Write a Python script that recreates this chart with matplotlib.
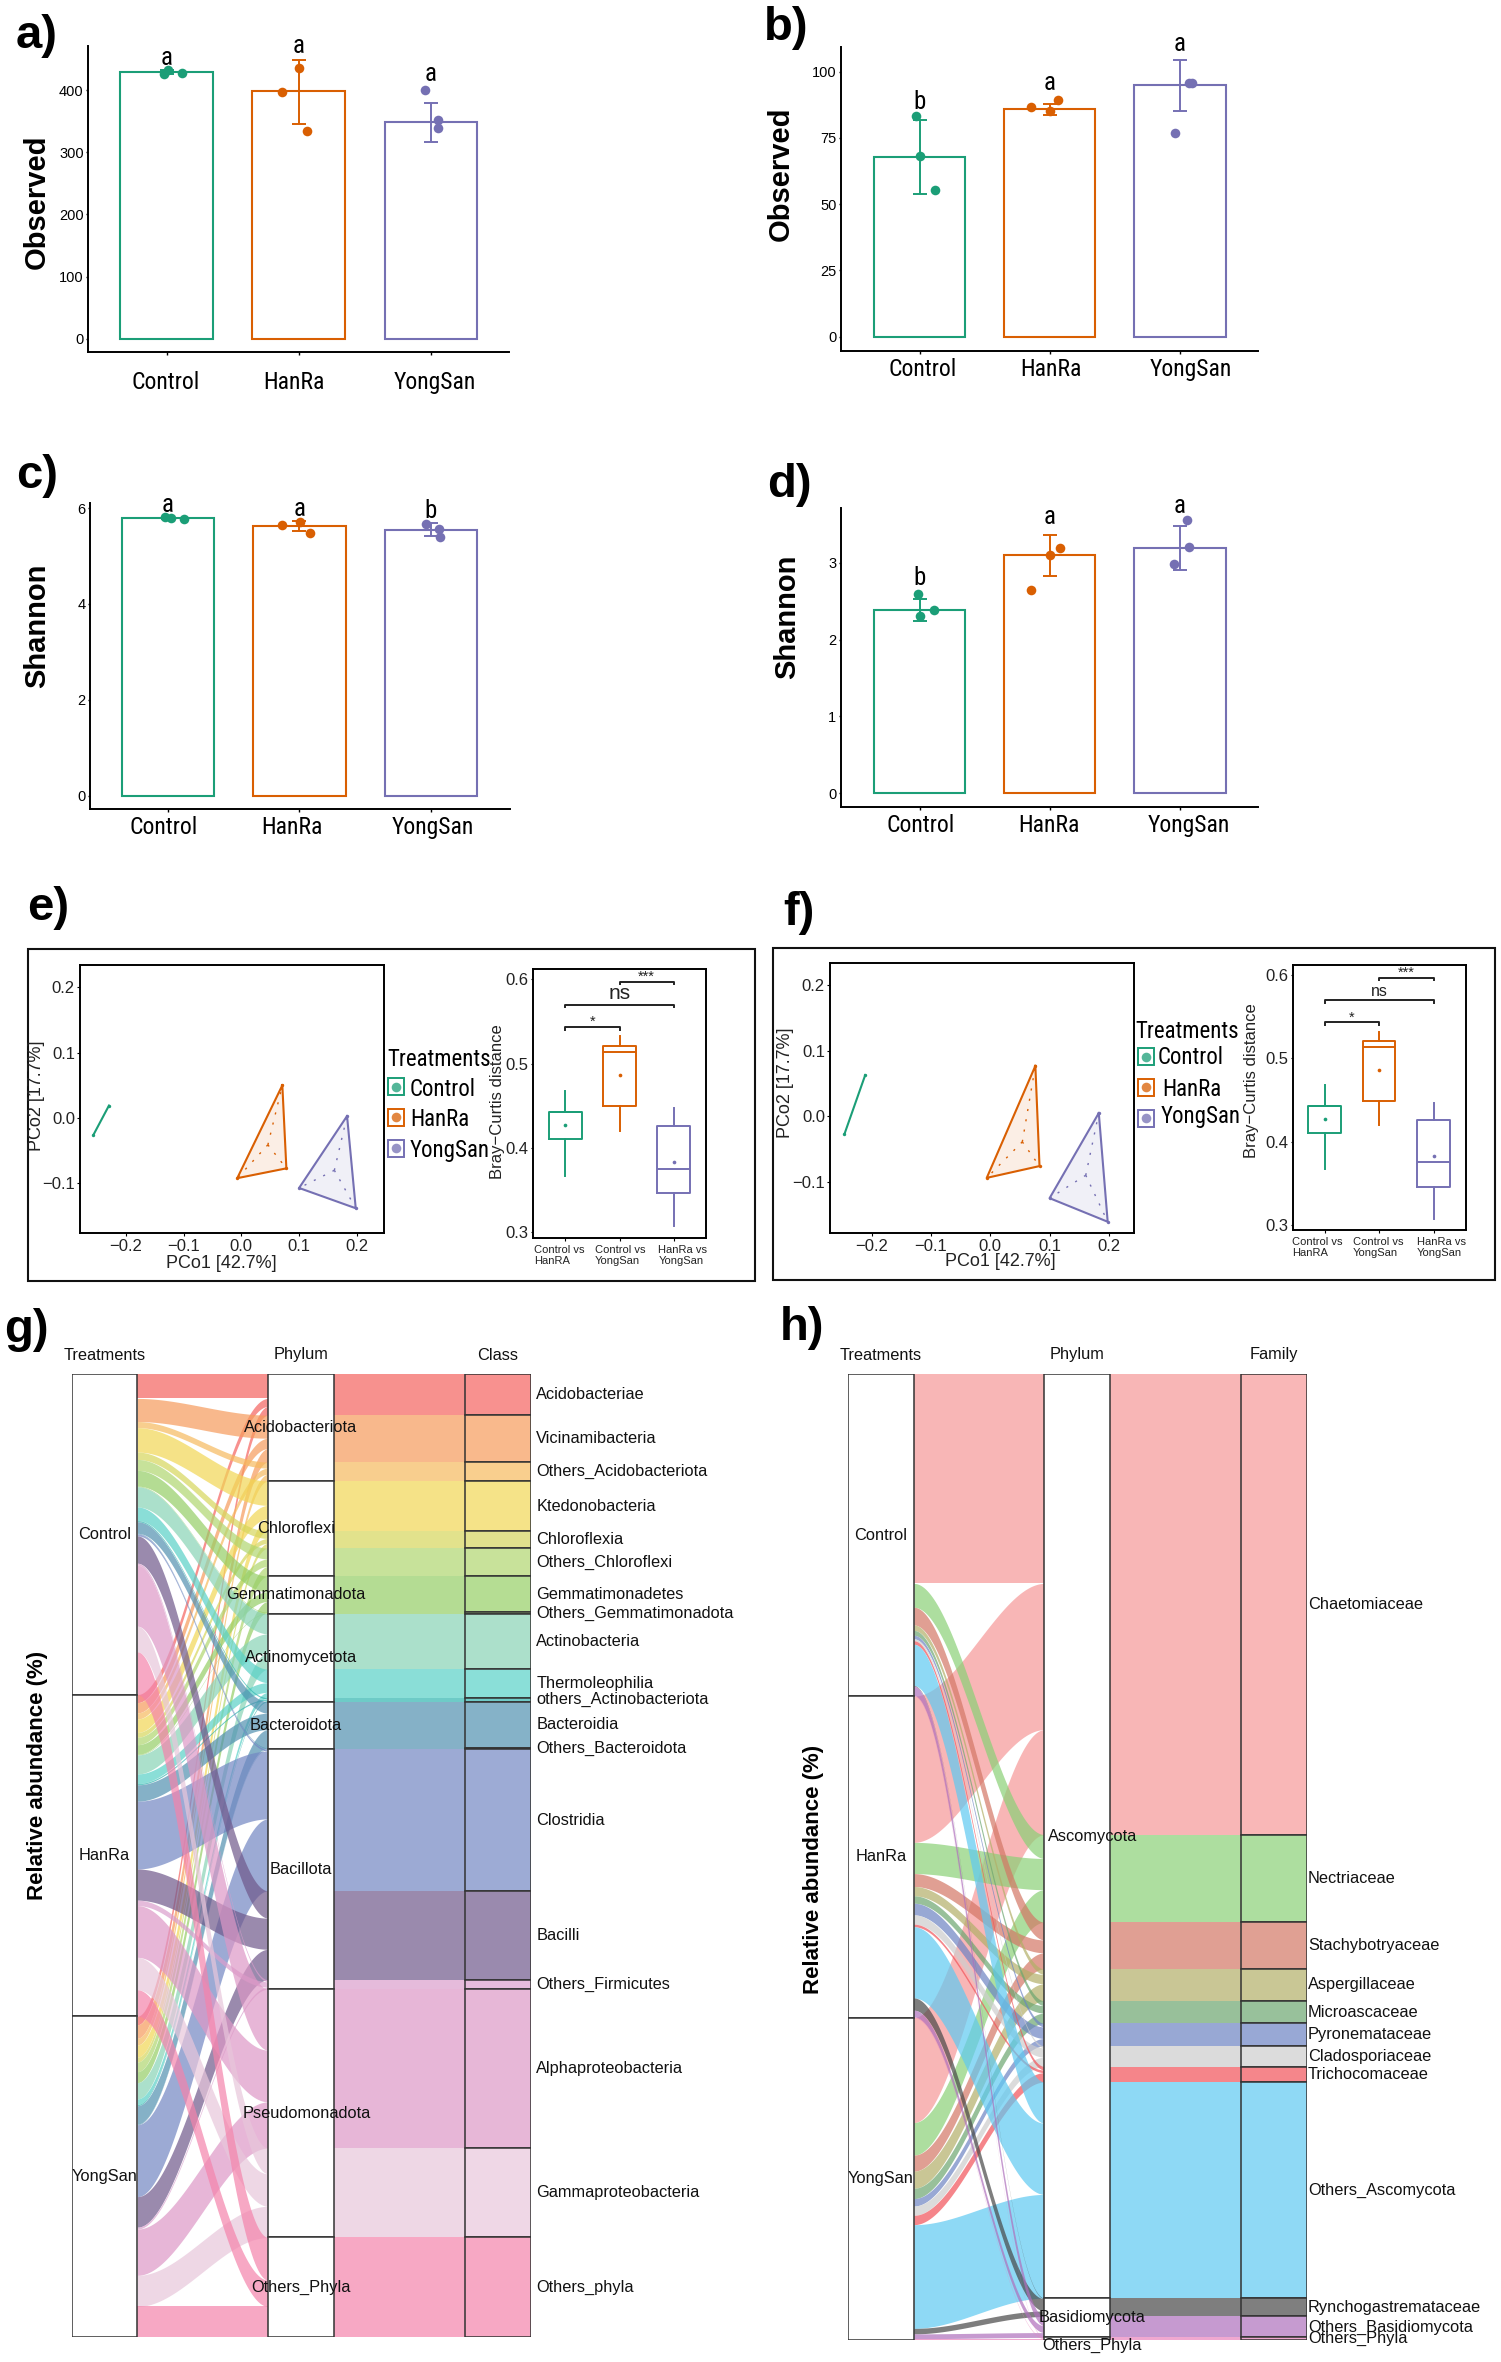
import numpy as np
import matplotlib
matplotlib.use("Agg")
import matplotlib.pyplot as plt
from matplotlib import font_manager as fm
from matplotlib.patches import Rectangle
from matplotlib.transforms import ScaledTranslation
from matplotlib.colors import to_rgb

W, H = 1501, 2362
names = {f.name for f in fm.fontManager.ttflist}
NARROW = next((n for n in ["Liberation Sans Narrow", "Roboto Condensed", "Open Sans Condensed"] if n in names), None)
NARROW_SCALE = 1.0
if NARROW is None:
    NARROW, NARROW_SCALE = "Liberation Sans", 0.82
plt.rcParams["font.family"] = ["Liberation Sans", "DejaVu Sans"]

groups = ["Control", "HanRa", "YongSan"]
colors = ["#1B9E77", "#D95F02", "#7570B3"]

# ---- alpha diversity panels
a_means = [429, 398, 349]
a_err = [(425, 433), (345, 449), (317, 379)]
a_points = [[426, 433, 428], [397, 436, 334], [400, 351, 339]]
a_jitter = [[-.02, .01, .115], [-.13, 0, .065], [-.043, .052, .058]]
a_letters = ["a", "a", "a"]
a_letter_y = [451, 471, 425]

b_means = [67.9, 85.9, 94.8]
b_err = [(53.8, 81.9), (83.8, 87.8), (85.3, 104.3)]
b_points = [[83.4, 68.3, 55.2], [86.7, 85, 89.3], [76.7, 95.8, 95.8]]
b_jitter = [[-.03, 0, .117], [-.143, 0, .066], [-.037, .066, .09]]
b_letters = ["b", "a", "a"]
b_letter_y = [88.7, 95.6, 110.3]

c_means = [5.80, 5.63, 5.55]
c_err = [(5.78, 5.82), (5.52, 5.74), (5.42, 5.68)]
c_points = [[5.81, 5.80, 5.765], [5.65, 5.71, 5.48], [5.66, 5.56, 5.40]]
c_jitter = [[-.025, .02, .12], [-.13, .007, .08], [-.04, .06, .065]]
c_letters = ["a", "a", "b"]
c_letter_y = [6.06, 5.98, 5.93]

d_means = [2.39, 3.10, 3.19]
d_err = [(2.245, 2.53), (2.83, 3.36), (2.91, 3.47)]
d_points = [[2.59, 2.30, 2.38], [2.65, 3.10, 3.19], [2.98, 3.20, 3.55]]
d_jitter = [[-.01, 0, .114], [-.147, 0, .08], [-.048, .066, .055]]
d_letters = ["b", "a", "a"]
d_letter_y = [2.80, 3.59, 3.74]

# ---- ordination hulls: vertices and centroid for e and f
e_hulls = [[(-.256, -.026), (-.229, .019)],
           [(.071, .050), (.078, -.077), (-.007, -.092)],
           [(.183, .003), (.198, -.138), (.100, -.107)]]
e_centres = [None, (.046, -.041), (.161, -.080)]
f_hulls = [[(-.246, -.027), (-.211, .063)],
           [(.076, .077), (.083, -.076), (-.006, -.094)],
           [(.183, .005), (.198, -.161), (.100, -.125)]]
f_centres = [None, (.054, -.039), (.161, -.090)]

# ---- Bray-Curtis boxes
box_labels = ["Control vs\nHanRA", "Control vs\nYongSan", "HanRa vs\nYongSan"]
box_whislo = [.367, .4204, .3075]
box_q1 = [.4105, .4492, .346]
box_med = [.4425, .514, .3754]
box_q3 = [.443, .521, .4255]
box_whishi = [.4675, .532, .447]
box_mean = [.4267, .486, .383]
bracket_y = [.5432, .5696, .5969]
bracket_text = ["*", "ns", "***"]
bracket_span = [(1, 2), (1, 3), (2, 3)]

# ---- alluvial g (relative abundance, %, one per treatment)
g_class = ["Acidobacteriae", "Vicinamibacteria", "Others_Acidobacteriota", "Ktedonobacteria", "Chloroflexia",
           "Others_Chloroflexi", "Gemmatimonadetes", "Others_Gemmatimonadota", "Actinobacteria", "Thermoleophilia",
           "others_Actinobacteriota", "Bacteroidia", "Others_Bacteroidota", "Clostridia", "Bacilli",
           "Others_Firmicutes", "Alphaproteobacteria", "Gammaproteobacteria", "Others_phyla"]
g_phylum = ["Acidobacteriota"] * 3 + ["Chloroflexi"] * 3 + ["Gemmatimonadota"] * 2 + ["Actinomycetota"] * 3 + \
           ["Bacteroidota"] * 2 + ["Bacillota"] * 3 + ["Pseudomonadota"] * 2 + ["Others_Phyla"]
g_control = [7.6, 7.2, 1.9, 7.6, 2.3, 3.4, 4.9, .2, 6.3, 4.2, .4, 3.6, .2, .6, 8.5, .6, 19.0, 8.0, 13.3]
g_hanra = [2.5, 3.2, 1.9, 4.2, 1.5, 2.3, 3.0, .2, 5.9, 3.0, .4, 5.1, 0, 21.1, 9.7, 1.7, 16.1, 10.1, 8.2]
g_yongsan = [2.7, 4.2, 2.1, 3.8, 1.5, 3.0, 3.4, 0, 5.1, 1.7, .4, 5.7, .2, 22.4, 9.5, .6, 14.4, 9.7, 9.5]
g_colors = ["#F8918F", "#F9B98C", "#F9CF8E", "#F5E388", "#E2E28D", "#C8E29A", "#B5DD93", "#B5DD93", "#ACE0CB",
            "#8ADFD8", "#6FCBC8", "#85B2C8", "#85B2C8", "#9DABD5", "#9A8AAE", "#E5BBDC", "#E7B7D7", "#EFD7E6", "#F7A8C4"]
g_offsets = {"Chloroflexi": -5, "Gemmatimonadota": -5, "Bacteroidota": -5, "Pseudomonadota": 6}

# ---- alluvial h
h_family = ["Chaetomiaceae", "Nectriaceae", "Stachybotryaceae", "Aspergillaceae", "Microascaceae", "Pyronemataceae",
            "Cladosporiaceae", "Trichocomaceae", "Others_Ascomycota", "Rynchogastremataceae", "Others_Basidiomycota",
            "Others_Phyla"]
h_phylum = ["Ascomycota"] * 9 + ["Basidiomycota"] * 2 + ["Others_Phyla"]
h_control = [65.0, 7.4, 5.5, 1.7, 1.5, 1.1, .6, 1.1, 12.8, .2, 2.9, .2]
h_hanra = [45.4, 9.7, 4.0, 2.9, 2.3, 3.6, 2.9, .8, 22.1, 3.8, 2.1, .2]
h_yongsan = [32.6, 10.1, 5.0, 5.3, 3.2, 2.3, 2.9, 2.9, 32.2, 1.7, 1.5, .4]
h_colors = ["#F9B7B7", "#ADDE9F", "#E0A093", "#C9C795", "#98C19B", "#98A8D5", "#DCDCDC", "#F5868B", "#8FD9F5",
            "#7F7F7F", "#C69BD0", "#F0A8D0"]
h_offsets = {"Ascomycota": 15, "Basidiomycota": 15, "Others_Phyla": 15}

fig = plt.figure(figsize=(W / 100, H / 100), dpi=100, facecolor="white")


def X(x):
    """Measured x-positions come from two columns of crops, each slightly stretched."""
    return .993 * x if x < 750 else 750 + .993 * (x - 750)


def axraw(l, t, r, b, **kw):
    return fig.add_axes([l / W, 1 - b / H, (r - l) / W, (b - t) / H], **kw)


def axpx(l, t, r, b, **kw):
    return axraw(X(l), t, X(r), b, **kw)


ov = axraw(0, 0, W, H, zorder=20)
ov.set_xlim(0, W)
ov.set_ylim(H, 0)
ov.axis("off")
ov.patch.set_alpha(0)


def shift(label, dx, dy=0):
    label.set_transform(label.get_transform() + ScaledTranslation(dx / 100, -dy / 100, fig.dpi_scale_trans))


def bar_panel(box, xlim, ylim, yticks, means, errs, pts, jit, letters, letter_y, pad, offs, ylab, ylab_xy):
    ax = axpx(*box)
    xs = np.arange(1, 4)
    ax.bar(xs, means, width=.7, facecolor="none", edgecolor=colors, linewidth=1.5)
    for i, x in enumerate(xs):
        ax.errorbar(x, means[i], yerr=[[means[i] - errs[i][0]], [errs[i][1] - means[i]]], color=colors[i],
                    capsize=5, capthick=1.4, elinewidth=1.4)
        ax.scatter(x + np.array(jit[i]), pts[i], s=48, color=colors[i], linewidths=0, zorder=5, clip_on=False)
        ax.text(x, letter_y[i], letters[i], ha="center", va="center", fontsize=18 * NARROW_SCALE, family=NARROW,
                clip_on=False)
    ax.set_xlim(*xlim)
    ax.set_ylim(*ylim)
    ax.set_yticks(yticks)
    ax.set_xticks(xs)
    ax.set_xticklabels(groups, family=NARROW, fontsize=17 * NARROW_SCALE)
    ax.tick_params(axis="y", length=1.5, width=1, pad=1.5, labelsize=10.5)
    ax.tick_params(axis="x", length=2, width=1, pad=pad)
    for lb, o in zip(ax.get_xticklabels(), offs):
        shift(lb, o)
    for s in ["top", "right"]:
        ax.spines[s].set_visible(False)
    for s in ["left", "bottom"]:
        ax.spines[s].set_linewidth(1.4)
    ov.text(X(ylab_xy[0]), ylab_xy[1], ylab, rotation=90, ha="center", va="center", fontsize=21, fontweight="bold")
    return ax


def ylims(y0px, upp, t, b):
    return ((y0px - b) / upp, (y0px - t) / upp)


def xlims(c1, ppu, l, r):
    return (1 + (l - c1) / ppu, 1 + (r - c1) / ppu)


bar_panel((88.5, 46, 513, 352), xlims(167.8, 133, 88.5, 513), ylims(338.7, .6217, 46, 352), [0, 100, 200, 300, 400],
          a_means, a_err, a_points, a_jitter, a_letters, a_letter_y, 12, [-1, -5, 4], "Observed", (37.5, 201.7))
bar_panel((841.8, 46.7, 1262, 350.7), xlims(920.7, 131.2, 841.8, 1262), ylims(336.7, 2.65, 46.7, 350.7),
          [0, 25, 50, 75, 100], b_means, b_err, b_points, b_jitter, b_letters, b_letter_y, 3, [3, 1, 11],
          "Observed", (781, 174))
bar_panel((90.4, 503.3, 513.5, 809.3), xlims(169.2, 132.4, 90.4, 513.5), ylims(795.7, 47.93, 503.3, 809.3),
          [0, 2, 4, 6], c_means, c_err, c_points, c_jitter, c_letters, c_letter_y, 3, [-4, -8, 2], "Shannon",
          (37.5, 626))
bar_panel((841.3, 507.7, 1262, 807.3), xlims(920.7, 131.2, 841.3, 1262), ylims(793.3, 76.9, 507.7, 807.3),
          [0, 1, 2, 3], d_means, d_err, d_points, d_jitter, d_letters, d_letter_y, 3, [1, -1, 9], "Shannon",
          (787.5, 616.7))


def ordination(frame, box, x0, xppu, y0, yppu, hulls, centres, xlab_xy, ylab_xy, legend):
    ov.add_patch(Rectangle((X(frame[0]), frame[1]), X(frame[2]) - X(frame[0]), frame[3] - frame[1], fill=False,
                           edgecolor="#111111", linewidth=1.5))
    ax = axpx(*box)
    xppu = xppu * .993
    x0 = X(x0)
    ax.set_xlim((X(box[0]) - x0) / xppu, (X(box[2]) - x0) / xppu)
    ax.set_ylim((y0 - box[3]) / yppu, (y0 - box[1]) / yppu)
    for hull, cen, c in zip(hulls, centres, colors):
        xs, ys = zip(*hull)
        if len(hull) > 2:
            ax.fill(xs, ys, facecolor=c, alpha=.1, linewidth=0)
            ax.plot(list(xs) + [xs[0]], list(ys) + [ys[0]], color=c, lw=1.5)
            for x, y in hull:
                ax.plot([cen[0], x], [cen[1], y], color=c, lw=1, ls=(0, (1.5, 6)))
        else:
            ax.plot(xs, ys, color=c, lw=1.5)
        ax.scatter(xs, ys, s=6, color=c, linewidths=0, zorder=4)
    ax.set_xticks([-.2, -.1, 0, .1, .2])
    ax.set_yticks([-.1, 0, .1, .2])
    ax.xaxis.set_major_formatter(lambda v, p: f"{v:.1f}".replace("-", "\u2212"))
    ax.yaxis.set_major_formatter(lambda v, p: f"{v:.1f}".replace("-", "\u2212"))
    ax.tick_params(length=2, width=.8, labelsize=12, pad=2, labelcolor="#222222")
    for s in ax.spines.values():
        s.set_linewidth(1.4)
    ov.text(X(xlab_xy[0]), xlab_xy[1], "PCo1 [42.7%]", ha="center", va="center", fontsize=13, color="#222222")
    ov.text(X(ylab_xy[0]), ylab_xy[1], "PCo2 [17.7%]", ha="center", va="center", fontsize=13, rotation=90,
            color="#222222")
    tx, ty = legend["title"]
    ov.text(X(tx), ty, "Treatments", ha="left", va="center", family=NARROW, fontsize=16.5 * NARROW_SCALE)
    for g, c, (kx, ky), (lx, ly) in zip(groups, colors, legend["keys"], legend["labels"]):
        ov.add_patch(Rectangle((X(kx) - 8, ky - 8.5), 16, 17, facecolor="white", edgecolor=c, linewidth=1.4))
        ov.scatter([X(kx)], [ky], s=48, color=c, alpha=.75, linewidths=0, zorder=3)
        ov.text(X(lx), ly, g, ha="left", va="center", family=NARROW, fontsize=16.5 * NARROW_SCALE)


def boxes(box, c1, ppu, y3, yppu, lab_x, ylab_xy, ns_size):
    ax = axpx(*box)
    ax.set_xlim(1 + (box[0] - c1) / ppu, 1 + (box[2] - c1) / ppu)
    ax.set_ylim(.3 + (y3 - box[3]) / yppu, .3 + (y3 - box[1]) / yppu)
    for i, c in enumerate(colors):
        st = dict(med=box_med[i], q1=box_q1[i], q3=box_q3[i], whislo=box_whislo[i], whishi=box_whishi[i], fliers=[])
        lp = dict(color=c, linewidth=1.4)
        ax.bxp([st], positions=[i + 1], widths=.6, showcaps=False, showfliers=False, boxprops=lp, medianprops=lp,
               whiskerprops=lp, manage_ticks=False)
        ax.scatter([i + 1], [box_mean[i]], s=7, color=c, linewidths=0, zorder=4)
    for (x1, x2), y, t in zip(bracket_span, bracket_y, bracket_text):
        ax.plot([x1, x1, x2, x2], [y - .003, y, y, y - .003], color="#222222", lw=1.4)
        size = ns_size if t == "ns" else 10.5
        ax.text((x1 + x2) / 2, y + (.002 if t == "ns" else .0075), t, ha="center",
                va="bottom" if t == "ns" else "center_baseline", fontsize=size, color="#222222")
    ax.set_xticks([1, 2, 3])
    ax.set_xticklabels(box_labels, fontsize=8, ha="left", color="#222222", linespacing=1.1)
    ax.set_yticks([.3, .4, .5, .6])
    ax.tick_params(axis="y", length=1.5, width=.8, labelsize=12, pad=1.5, labelcolor="#222222")
    ax.tick_params(axis="x", length=2, width=.8, pad=3)
    for i, (lb, x) in enumerate(zip(ax.get_xticklabels(), lab_x)):
        shift(lb, X(x) - X(c1 + ppu * i))
    for s in ax.spines.values():
        s.set_linewidth(1.4)
    ov.text(X(ylab_xy[0]), ylab_xy[1], "Bray\u2212Curtis distance", rotation=90, ha="center", va="center",
            fontsize=12, color="#222222")


ordination((28, 949, 755, 1281), (81, 964.7, 387, 1233), 243, 582, 1118, 654, e_hulls, e_centres,
           (223, 1263), (36.6, 1096),
           dict(title=(390, 1060), keys=[(399, 1086.7), (399, 1117), (399, 1148)],
                labels=[(413, 1090), (413, 1119), (413, 1151)]))
boxes((536.6, 969.3, 710.7, 1238.3), 569.3, 54.6, 1232.3, 844, [538, 599, 663], (501, 1101.7), 15)
ordination((773, 948.3, 1500, 1280), (831, 963.3, 1137, 1233.3), 992, 597, 1116.3, 655, f_hulls, f_centres,
           (1002, 1261), (786, 1082.7),
           dict(title=(1138.5, 1031.7), keys=[(1148.6, 1056.7), (1148.6, 1087), (1148.6, 1118)],
                labels=[(1161, 1057.7), (1165, 1090), (1163.5, 1117)]))
boxes((1296.6, 965.3, 1471, 1230), 1328.8, 54.8, 1225, 833, [1296, 1357, 1421.6], (1255, 1080.7), 11.5)


def deepen(hexcol, a):
    return tuple(np.clip((np.array(to_rgb(hexcol)) - (1 - a)) / a, 0, 1))


def alluvial(box, classes, phyla, values, cols, titles, offs, label_gap, yoffs=None):
    yoffs = yoffs or {}
    ax = axraw(*box)
    ax.axis("off")
    wid = .335
    ax.set_xlim(-wid / 2, 2 + wid / 2)
    total = sum(sum(v) for v in values)
    ax.set_ylim(total, 0)
    a = .7
    n = len(classes)
    left = {}
    y = 0
    tre_spans = []
    for t, vals in enumerate(values):
        y0 = y
        for k in range(n):
            left[(t, k)] = (y, y + vals[k])
            y += vals[k]
        tre_spans.append((y0, y))
    right = {}
    cls_spans = []
    y = 0
    for k in range(n):
        y0 = y
        for t in range(len(values)):
            right[(t, k)] = (y, y + values[t][k])
            y += values[t][k]
        cls_spans.append((y0, y))
    phy_names = list(dict.fromkeys(phyla))
    phy_spans = [(min(cls_spans[i][0] for i in range(n) if phyla[i] == p),
                  max(cls_spans[i][1] for i in range(n) if phyla[i] == p)) for p in phy_names]
    t_ = np.linspace(0, 1, 80)
    s_ = t_ * t_ * (3 - 2 * t_)
    xs = wid / 2 + (1 - wid) * t_
    edge = "#333333"
    for k in range(n):
        col = deepen(cols[k], a)
        for t in range(len(values)):
            (a0, a1), (b0, b1) = left[(t, k)], right[(t, k)]
            if a1 - a0 <= 0:
                continue
            ax.fill_between(xs, a0 + (b0 - a0) * s_, a1 + (b1 - a1) * s_, color=col, alpha=a, linewidth=0)
        ax.fill_between([1 + wid / 2, 2 - wid / 2], *cls_spans[k], color=col, alpha=a, linewidth=0)
        ax.add_patch(Rectangle((2 - wid / 2, cls_spans[k][0]), wid, cls_spans[k][1] - cls_spans[k][0],
                               facecolor=cols[k], edgecolor=edge, linewidth=1.1, zorder=3))
        ax.text(2 + wid / 2 + label_gap, sum(cls_spans[k]) / 2, classes[k], ha="left", va="center", fontsize=11.8,
                clip_on=False, color="#111111", zorder=6)
    for sp, g in zip(tre_spans, groups):
        ax.add_patch(Rectangle((-wid / 2, sp[0]), wid, sp[1] - sp[0], facecolor="white", edgecolor=edge,
                               linewidth=1.1, zorder=3))
        ax.text(0, sum(sp) / 2, g, ha="center", va="center", fontsize=11.8, color="#111111", zorder=6)
    for sp, p in zip(phy_spans, phy_names):
        ax.add_patch(Rectangle((1 - wid / 2, sp[0]), wid, sp[1] - sp[0], facecolor="white", edgecolor=edge,
                               linewidth=1.1, zorder=3))
        ax.annotate(p, (1, sum(sp) / 2), xytext=(offs.get(p, 0) * .72, -yoffs.get(p, 0) * .72),
                    textcoords="offset points", ha="center", va="center", fontsize=11.8, color="#111111", zorder=6,
                    annotation_clip=False)
    for x, tt in zip([0, 1, 2], titles):
        ax.annotate(tt, (x, 0), xytext=(0, 19 * .72), textcoords="offset points", ha="center", va="center",
                    fontsize=11.8, color="#111111", annotation_clip=False)


alluvial((71.5, 1374, 530.5, 2337), g_class, g_phylum, [g_control, g_hanra, g_yongsan], g_colors,
         ["Treatments", "Phylum", "Class"], g_offsets, .03)
alluvial((848, 1374, 1306.5, 2340), h_family, h_phylum, [h_control, h_hanra, h_yongsan], h_colors,
         ["Treatments", "Phylum", "Family"], h_offsets, .008, {"Others_Phyla": 7})

ov.text(38, 1775, "Relative abundance (%)", rotation=90, ha="center", va="center", fontweight="bold", fontsize=16)
ov.text(813, 1869, "Relative abundance (%)", rotation=90, ha="center", va="center", fontweight="bold", fontsize=16)

for t, x, y in [("a)", 16, 48), ("b)", 763.5, 40), ("c)", 16, 488), ("d)", 767, 497), ("e)", 27, 920), ("f)", 783, 925),
                ("g)", 4, 1342), ("h)", 780, 1340)]:
    ov.text(x, y, t, fontsize=34, fontweight="bold", ha="left", va="baseline", color="black")

fig.savefig("out.png", dpi=100, facecolor="white")
